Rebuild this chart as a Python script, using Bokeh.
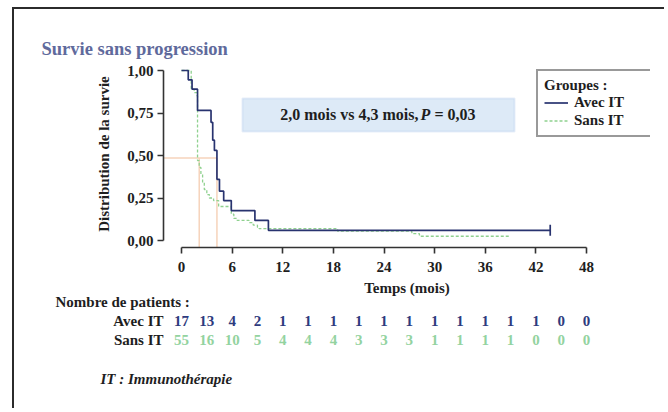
from bokeh.plotting import figure
from bokeh.layouts import column
from bokeh.models import (ColumnDataSource, FixedTicker, Legend, LegendItem,
                          BoxAnnotation, Range1d, Label, Title)
from bokeh.core.properties import value
from bokeh.embed import file_html
from bokeh.resources import INLINE

# ---------------- data ----------------
avec_t = [0, 0.8, 1.25, 1.9, 3.5, 3.7, 3.9, 4.2, 4.5, 5.0, 5.9, 8.7, 10.3, 43.7]
avec_s = [1.0, 0.945, 0.89, 0.765, 0.695, 0.59, 0.53, 0.36, 0.29, 0.235, 0.176, 0.118, 0.06, 0.06]
sans_t = [0, 1.15, 1.5, 1.85, 1.9, 2.1, 2.3, 2.5, 2.7, 3.0, 3.3, 3.8, 4.4, 5.9, 6.2, 6.6,
          8.0, 8.5, 9.0, 9.2, 18.5, 27.3, 28.2, 39.0]
sans_s = [1.0, 0.89, 0.87, 0.85, 0.47, 0.43, 0.39, 0.34, 0.30, 0.27, 0.25, 0.235, 0.20, 0.155,
          0.13, 0.118, 0.105, 0.09, 0.078, 0.07, 0.055, 0.04, 0.025, 0.025]
censor_t = [43.7]
censor_s = [0.06]
median_level = 0.485
median_avec = 4.2
median_sans = 2.1
risk_times = [0, 3, 6, 9, 12, 15, 18, 21, 24, 27, 30, 33, 36, 39, 42, 45, 48]
risk_avec = [17, 13, 4, 2, 1, 1, 1, 1, 1, 1, 1, 1, 1, 1, 1, 0, 0]
risk_sans = [55, 16, 10, 5, 4, 4, 4, 3, 3, 3, 1, 1, 1, 1, 0, 0, 0]
risk_groups = ["Avec IT", "Sans IT"]
x_ticks = [0, 6, 12, 18, 24, 30, 36, 42, 48]
y_ticks = [0, 0.25, 0.5, 0.75, 1.0]
y_tick_labels = ["0,00", "0,25", "0,50", "0,75", "1,00"]

# ---------------- layout (page pixels) ----------------
PX0, PY0 = 14, 9          # content origin on the page (inside the border)
RIGHT = 664
SPLIT = 311               # page y where the lower (risk table) figure starts
ROW1, ROW2 = 320, 339     # page y of the two risk rows
QFB = 348                 # page y of the lower figure's frame bottom
BOTTOM = 408
X0PX, X48PX = 181, 586
SX = (X48PX - X0PX) / 48.0
Y0PX, Y1PX = 240, 70
SY = float(Y0PX - Y1PX)


def dx(px):
    return (px - X0PX) / SX


def dy(py):
    return (Y0PX - py) / SY


FL, FR, FT, FB = 163, 650, 60, 247

NAVY = "#28336f"
GREEN = "#8fd18f"
NAVY_T = "#2e3b7e"
GREEN_T = "#93d3a0"
PEACH = "#f6d3bb"
FONT = "Liberation Serif"
TXT = "#1e1e1e"

p = figure(width=RIGHT - PX0, height=SPLIT - PY0,
           x_range=Range1d(dx(FL), dx(FR)), y_range=Range1d(dy(FB), dy(FT)),
           output_backend="svg", toolbar_location=None,
           min_border_left=FL - PX0, min_border_right=RIGHT - FR,
           min_border_top=FT - PY0, min_border_bottom=SPLIT - FB)
p.grid.visible = False
p.outline_line_color = None
p.background_fill_color = "white"
p.border_fill_color = "white"

p.title.text = "Survie sans progression"
p.title.align = "left"
p.title.offset = 41 - FL
p.title.standoff = 3
p.title.text_font = FONT
p.title.text_font_style = "bold"
p.title.text_font_size = "18.5px"
p.title.text_color = "#5f6a9c"

for ax in (p.xaxis[0], p.yaxis[0]):
    ax.axis_line_color = "#333333"
    ax.axis_line_width = 1.6
    ax.major_tick_line_color = "#333333"
    ax.major_tick_line_width = 1.6
    ax.major_tick_out = 6
    ax.major_tick_in = 0
    ax.minor_tick_line_color = None
    ax.major_label_text_font = FONT
    ax.major_label_text_font_style = "bold"
    ax.major_label_text_font_size = "15px"
    ax.major_label_text_color = TXT
    ax.axis_label_text_font = FONT
    ax.axis_label_text_font_style = "bold"
    ax.axis_label_text_font_size = "15px"
    ax.axis_label_text_color = TXT

p.xaxis.ticker = FixedTicker(ticks=x_ticks)
p.xaxis.bounds = (x_ticks[0], x_ticks[-1])
p.xaxis.axis_label = "Temps (mois)"
p.xaxis.major_label_standoff = 8
p.xaxis.axis_label_standoff = 5

p.yaxis.ticker = FixedTicker(ticks=y_ticks)
p.yaxis.bounds = (y_ticks[0], y_ticks[-1])
p.yaxis.major_label_overrides = {t: l for t, l in zip(y_ticks, y_tick_labels)}
p.yaxis.axis_label = "Distribution de la survie"
p.yaxis.major_label_standoff = 4
p.yaxis.axis_label_standoff = 12

p.add_layout(Title(text="Nombre de patients :", align="left", offset=55 - FL, standoff=-14,
                   text_font=FONT, text_font_style="bold", text_font_size="15px",
                   text_color=TXT), "below")

# median guide lines
p.segment(x0=[p.x_range.start], y0=[median_level], x1=[median_avec], y1=[median_level],
          line_color=PEACH, line_width=1.5)
p.segment(x0=[median_sans, median_avec], y0=[median_level, median_level],
          x1=[median_sans, median_avec], y1=[p.y_range.start, p.y_range.start],
          line_color=PEACH, line_width=1.5)

r_sans = p.step(sans_t, sans_s, mode="after", line_color=GREEN, line_width=1.3,
                line_dash="3 2")
r_avec = p.step(avec_t, avec_s, mode="after", line_color=NAVY, line_width=1.7)
p.scatter(censor_t, censor_s, marker="dash", angle=1.5708, size=11,
          line_color=NAVY, line_width=1.7)

legend = Legend(items=[LegendItem(label=risk_groups[0], renderers=[r_avec]),
                       LegendItem(label=risk_groups[1], renderers=[r_sans])],
                title="Groupes :", location=(536 - FL, FB - 137),
                title_text_font=FONT, title_text_font_style="bold",
                title_text_font_size="15px", title_text_color=TXT, title_standoff=0,
                label_text_font=FONT, label_text_font_style="bold",
                label_text_font_size="15px", label_text_color=TXT,
                glyph_width=24, glyph_height=15, label_height=15, label_standoff=6,
                label_width=72, spacing=1, padding=6, margin=0,
                border_line_color="#333333", border_line_width=2,
                background_fill_color="white", background_fill_alpha=1)
p.add_layout(legend)

# statistics box
p.add_layout(BoxAnnotation(left=dx(242), right=dx(514), top=dy(98), bottom=dy(131),
                           fill_color="#ddeaf7", fill_alpha=1.0,
                           line_color="#abc7ea", line_width=2))


def lab(x, y, text, align="left", size="15px", style="bold"):
    p.add_layout(Label(x=x, y=y, text=text, text_align=align, text_baseline="middle",
                       text_font=FONT, text_font_style=style, text_font_size=size,
                       text_color=TXT))


lab(dx(418), dy(114), "2,0 mois vs 4,3 mois,", align="right", size="16px")
lab(dx(420), dy(114), "P", size="16px", style="bold italic")
lab(dx(434), dy(114), "= 0,03", size="16px")

# ---------------- lower figure: number at risk ----------------
q = figure(width=RIGHT - PX0, height=BOTTOM - SPLIT, title=None,
           x_range=p.x_range, y_range=Range1d(QFB, SPLIT),
           output_backend="svg", toolbar_location=None, x_axis_type=None,
           min_border_left=FL - PX0, min_border_right=RIGHT - FR,
           min_border_top=0, min_border_bottom=BOTTOM - QFB)
q.grid.visible = False
q.outline_line_color = None
q.background_fill_color = "white"
q.border_fill_color = "white"

qa = q.yaxis[0]
qa.ticker = FixedTicker(ticks=[ROW1, ROW2])
qa.major_label_overrides = {ROW1: risk_groups[0], ROW2: risk_groups[1]}
qa.axis_line_color = None
qa.major_tick_line_color = None
qa.minor_tick_line_color = None
qa.major_tick_out = 0
qa.major_tick_in = 0
qa.major_label_standoff = 0
qa.major_label_text_font = FONT
qa.major_label_text_font_style = "bold"
qa.major_label_text_font_size = "15px"
qa.major_label_text_color = TXT

src = ColumnDataSource(data=dict(t=risk_times,
                                 a=[str(v) for v in risk_avec],
                                 s=[str(v) for v in risk_sans]))
common = dict(text_baseline="middle", text_align="center", text_font=value(FONT),
              text_font_style="bold", text_font_size="15px")
q.text(x="t", y=ROW1, text="a", source=src, text_color=NAVY_T, **common)
q.text(x="t", y=ROW2, text="s", source=src, text_color=GREEN_T, **common)

q.add_layout(Title(text="IT : Immunothérapie", align="left", offset=100 - FL, standoff=41,
                   text_font=FONT, text_font_style="bold italic", text_font_size="15px",
                   text_color=TXT), "below")

layout = column(p, q, spacing=0, margin=(7, 0, 0, 12),
                styles={"border-top": "2px solid #2b2b2b",
                        "border-left": "2px solid #2b2b2b"})

open("out.html", "w").write(file_html(layout, INLINE))
